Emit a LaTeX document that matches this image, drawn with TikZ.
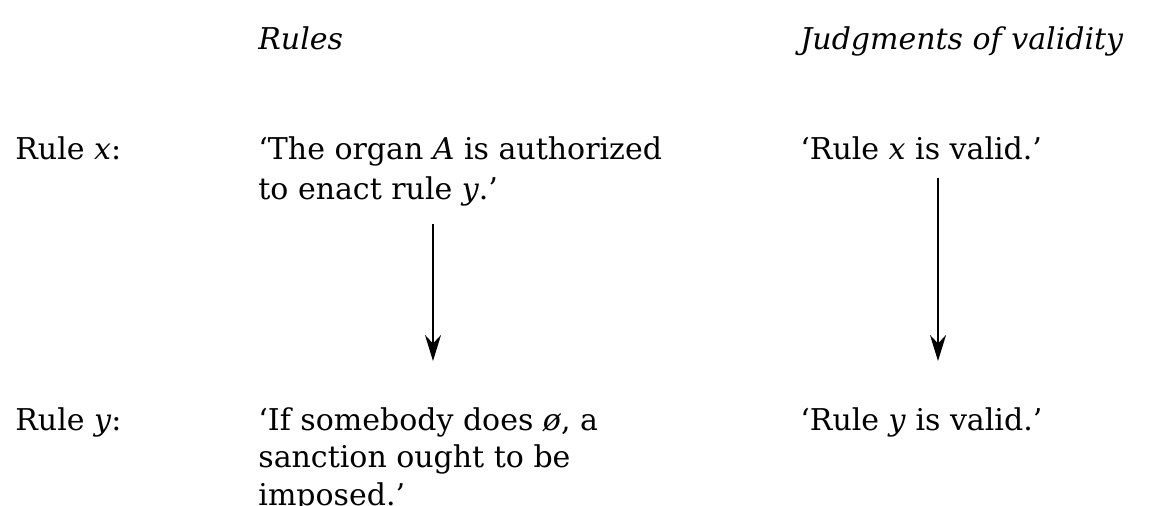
\documentclass[tikz,border=0pt]{standalone}
\usepackage{fontspec}
\setmainfont{DejaVu Serif}
\usepackage{tikz}
\usetikzlibrary{arrows.meta}

\begin{document}
\begin{tikzpicture}[x=0.5pt,y=-0.5pt,
    txt/.style={anchor=north west,inner sep=0pt,align=left,font=\fontsize{15}{20}\selectfont},
    head/.style={txt,font=\fontsize{15}{20}\selectfont\itshape},
    arr/.style={-{Stealth[length=13pt,width=8pt]},line width=1.1pt}]
  \useasboundingbox (0,0) rectangle (1149,505);
  \node[head] (hrules) at (258,26) {Rules};
  \node[head] (hvalid) at (800,26) {Judgments of validity};
  \node[txt] (lx) at (15,136) {Rule \textit{x}:};
  \node[txt] (rx) at (258,136) {`The organ \textit{A} is authorized\\to enact rule \textit{y}.'};
  \node[txt] (vx) at (800,136) {`Rule \textit{x} is valid.'};
  \node[txt] (ly) at (15,407) {Rule \textit{y}:};
  \node[txt,font=\fontsize{15}{18.7}\selectfont] (ry) at (258,407) {`If somebody does \textit{\o}, a\\sanction ought to be\\imposed.'};
  \node[txt] (vy) at (800,407) {`Rule \textit{y} is valid.'};
  \coordinate (ax) at (433,0);
  \coordinate (bx) at (938,0);
  \draw[arr] ([yshift=-9pt]rx.south -| ax) -- ([yshift=23pt]ry.north -| ax);
  \draw[arr] ([yshift=-9pt]vx.south -| bx) -- ([yshift=23pt]vy.north -| bx);
\end{tikzpicture}
\end{document}
